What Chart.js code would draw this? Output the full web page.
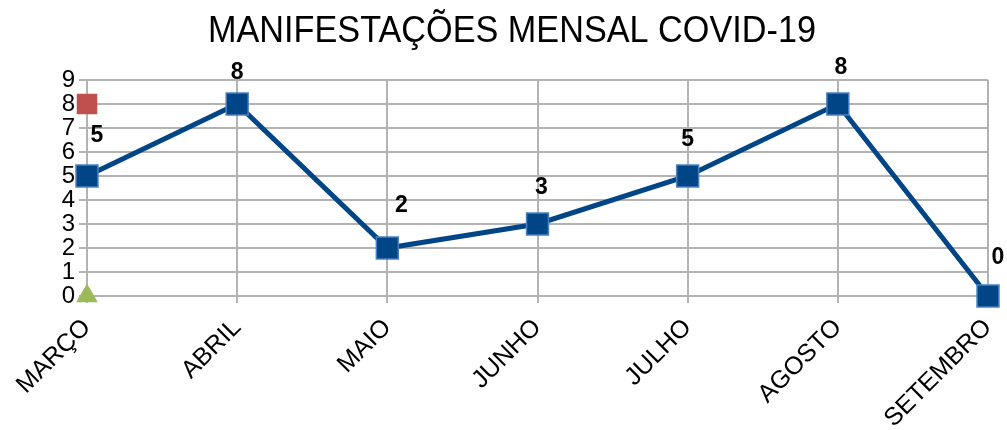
<!DOCTYPE html>
<html><head><meta charset="utf-8">
<script src="https://cdn.jsdelivr.net/npm/chart.js@4"></script>
<style>html,body{margin:0;padding:0;background:#fff}#w{width:1007px;height:430px}</style>
</head><body><div id="w"><canvas id="c"></canvas></div>
<script>
const categories = ["MARÇO","ABRIL","MAIO","JUNHO","JULHO","AGOSTO","SETEMBRO"];
const manifestacoes = [5,8,2,3,5,8,0];
const serieVermelha = [8,null,null,null,null,null,null];
const serieVerde = [0,null,null,null,null,null,null];
const yTicks = [0,1,2,3,4,5,6,7,8,9];
const titleText = "MANIFESTAÇÕES MENSAL COVID-19";

const labelDx = [10,0,14,4,0,3,10];
const labelDy = [-34,-25,-36,-30,-30,-30,-32];

const FONT = "'Liberation Sans', Arial, sans-serif";
const labelsPlugin = {
  id:'vals',
  afterDatasetsDraw(chart){
    const ctx = chart.ctx, meta = chart.getDatasetMeta(0);
    ctx.save();
    ctx.font = "bold 23px " + FONT;
    ctx.fillStyle = "#000";
    ctx.textAlign = "center"; ctx.textBaseline = "alphabetic";
    meta.data.forEach((p,i)=>{
      ctx.fillText(String(manifestacoes[i]), p.x + labelDx[i], p.y + labelDy[i]);
    });
    ctx.restore();
  },
  afterDraw(chart){
    const ctx = chart.ctx;
    ctx.save();
    ctx.font = "37px " + FONT;
    ctx.fillStyle = "#000";
    ctx.textAlign = "center"; ctx.textBaseline = "alphabetic";
    ctx.translate(512, 42);
    ctx.scale(0.925, 1);
    ctx.fillText(titleText, 0, 0);
    ctx.restore();
  }
};
new Chart(document.getElementById('c'), {
  type:'line',
  data:{labels:categories, datasets:[
    {data:manifestacoes, borderColor:'#004586', borderWidth:5, backgroundColor:'#004586',
     pointStyle:'rect', pointRadius:15.5, pointHoverRadius:15.5, pointBorderColor:'#4a7fc0', pointBorderWidth:1.5, tension:0, clip:false},
    {data:serieVermelha, showLine:false, pointStyle:'rect', pointRadius:14.5, pointBackgroundColor:'#c0504d', pointBorderColor:'#c0504d', pointBorderWidth:0, clip:false},
    {data:serieVerde, showLine:false, pointStyle:'triangle', pointRadius:12.5, pointBackgroundColor:'#9bbb59', pointBorderColor:'#9bbb59', pointBorderWidth:0, clip:false}
  ]},
  options:{
    responsive:true, maintainAspectRatio:false, animation:false,
    layout:{padding:{left:0,right:19,top:80,bottom:0}},
    plugins:{legend:{display:false}, tooltip:{enabled:false}, title:{display:false}},
    scales:{
      x:{offset:false,
        grid:{color:'#b3b3b3', lineWidth:2, tickLength:7, drawTicks:true},
        border:{color:'#b3b3b3', width:2},
        ticks:{color:'#000', font:{family:FONT,size:25}, maxRotation:45, minRotation:45, autoSkip:false, padding:10},
        afterFit(s){ s.height = 134; s.paddingRight = 0; s.paddingLeft = 0; }
      },
      y:{min:0, max:9,
        grid:{color:'#b3b3b3', lineWidth:2, tickLength:8},
        border:{color:'#b3b3b3', width:2},
        afterBuildTicks(s){ s.ticks = yTicks.map(v=>({value:v})); },
        ticks:{color:'#000', font:{family:FONT,size:24}, padding:4, autoSkip:false, stepSize:1},
        afterFit(s){ s.width = 87; s.paddingTop = 0; s.paddingBottom = 0; }
      }
    }
  },
  plugins:[labelsPlugin]
});
</script></body></html>
